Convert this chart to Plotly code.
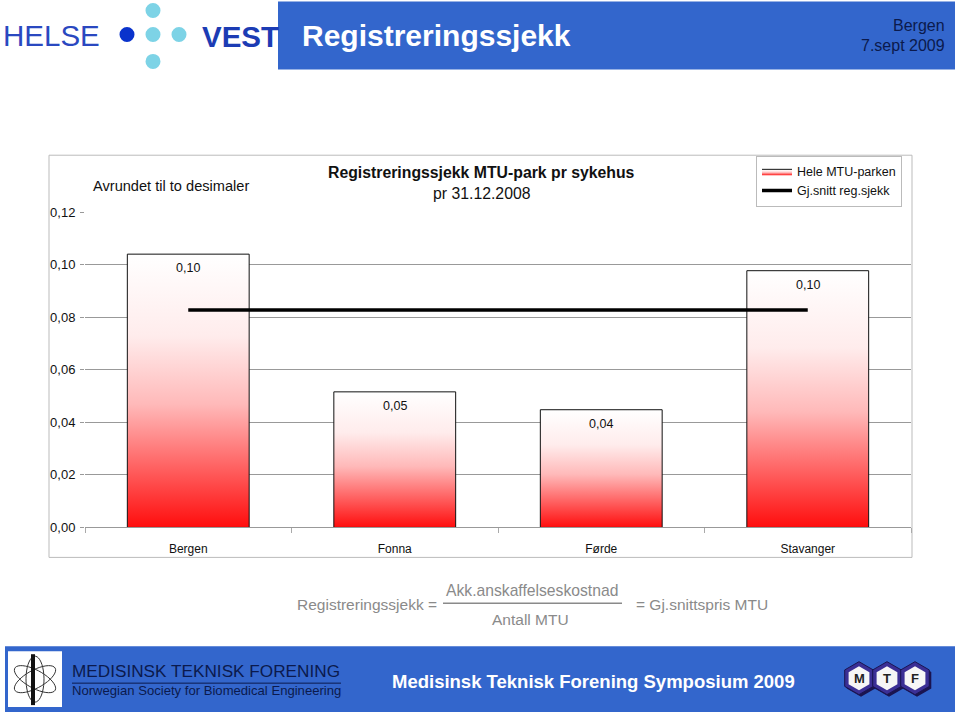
import plotly.graph_objects as go
import numpy as np

# ---------------- data ----------------
categories = ["Bergen", "Fonna", "Førde", "Stavanger"]
values = [0.104, 0.0516, 0.0448, 0.0977]
average = 0.0827
y_ticks = [0.0, 0.02, 0.04, 0.06, 0.08, 0.10, 0.12]

W, H = 960, 716
# vertical calibration (page pixel -> figure pixel)
Y0, YS = 6.5, 0.981
def px(x):
    return x / W
def py(y):
    return 1 - ((y - Y0) / YS) / H

FONT = "Liberation Sans, Arial, sans-serif"
BLUE = "#3366CC"
NAVY = "#0b1a4d"

fig = go.Figure()

bar_w = 0.59
grad = [[0, "#ff0d0d"], [0.2, "#ff5a5a"], [0.45, "#ffb9b9"], [0.7, "#ffecec"], [1, "#ffffff"]]
for i, (c, v) in enumerate(zip(categories, values)):
    x0, x1 = i - bar_w / 2, i + bar_w / 2
    fig.add_trace(go.Scatter(
        x=[x0, x0, x1, x1, x0], y=[0, v, v, 0, 0],
        mode="lines", fill="toself",
        fillgradient=dict(type="vertical", colorscale=grad),
        line=dict(color="#111111", width=1),
        name="Hele MTU-parken", legendgroup="bars",
        showlegend=(i == 0), hoverinfo="skip",
    ))

fig.add_trace(go.Scatter(
    x=[0, len(categories) - 1], y=[average, average], mode="lines",
    line=dict(color="black", width=3.5), name="Gj.snitt reg.sjekk",
))

shapes = []
annotations = []

# value labels inside bar tops
for i, v in enumerate(values):
    annotations.append(dict(xref="x", yref="y", x=i, y=v, yanchor="top", xanchor="center", yshift=-5,
                            text=f"{v:.2f}".replace(".", ","), showarrow=False,
                            font=dict(family=FONT, size=12.5, color="#111111")))

# chart box
shapes.append(dict(type="rect", xref="paper", yref="paper", x0=px(49), x1=px(912), y0=py(558), y1=py(155),
                   line=dict(color="#bbbbbb", width=1), fillcolor="white", layer="below"))
# header band
shapes.append(dict(type="rect", xref="paper", yref="paper", x0=px(278), x1=px(955), y0=py(69), y1=py(1),
                   line=dict(width=0), fillcolor=BLUE, layer="below"))
# footer band
shapes.append(dict(type="rect", xref="paper", yref="paper", x0=px(5), x1=px(955), y0=py(713), y1=py(647),
                   line=dict(width=0), fillcolor=BLUE, layer="below"))
# footer logo box
shapes.append(dict(type="rect", xref="paper", yref="paper", x0=px(8), x1=px(62), y0=py(708), y1=py(652),
                   line=dict(width=0), fillcolor="white"))
# atom ellipses in logo
cx, cy = 35, 680
t = np.linspace(0, 2 * np.pi, 40)
for ang in [0.5, -0.5, 1.57]:
    ex = 23 * np.cos(t)
    ey = 9 * np.sin(t)
    xr = cx + ex * np.cos(ang) - ey * np.sin(ang)
    yr = cy + ex * np.sin(ang) + ey * np.cos(ang)
    path = "M " + " L ".join(f"{px(a):.5f},{py(b):.5f}" for a, b in zip(xr, yr)) + " Z"
    shapes.append(dict(type="path", xref="paper", yref="paper", path=path,
                       line=dict(color="#333333", width=1)))
shapes.append(dict(type="line", xref="paper", yref="paper", x0=px(33), x1=px(33), y0=py(706), y1=py(655),
                   line=dict(color="#111111", width=4)))
# underline MTF text
shapes.append(dict(type="line", xref="paper", yref="paper", x0=px(72), x1=px(341), y0=py(684), y1=py(684),
                   line=dict(color=NAVY, width=1)))
# formula fraction line
shapes.append(dict(type="line", xref="paper", yref="paper", x0=px(443), x1=px(622), y0=py(604), y1=py(604),
                   line=dict(color="#8a8a8a", width=1.5)))

# Helse Vest dots
for (dx, dy, col) in [(127, 34, "#0a33cc"), (153, 10, "#7dd3e6"), (153, 34, "#7dd3e6"),
                      (179, 34, "#7dd3e6"), (153, 61, "#7dd3e6")]:
    r = 7.5
    shapes.append(dict(type="circle", xref="paper", yref="paper", x0=px(dx - r), x1=px(dx + r),
                       y0=py(dy + r), y1=py(dy - r), line=dict(width=0), fillcolor=col))

# MTF logo (pointy-top hexagons)
def hexpath(cx, cy, r):
    pts = []
    for k in range(6):
        a = np.pi / 2 + k * np.pi / 3
        pts.append((cx + r * np.cos(a), cy + r * np.sin(a)))
    return "M " + " L ".join(f"{px(a):.5f},{py(b):.5f}" for a, b in pts) + " Z"

for k, letter in enumerate(["M", "T", "F"]):
    lx, ly = 859 + k * 28, 679
    shapes.append(dict(type="path", xref="paper", yref="paper", path=hexpath(lx + 2, ly + 2, 16.5),
                       line=dict(width=0), fillcolor="#1a1450"))
    shapes.append(dict(type="path", xref="paper", yref="paper", path=hexpath(lx, ly, 16.5),
                       line=dict(color="#1a1450", width=1), fillcolor="#3b2f95"))
    shapes.append(dict(type="path", xref="paper", yref="paper", path=hexpath(lx, ly, 12),
                       line=dict(width=0), fillcolor="#f6f6f6"))
    annotations.append(dict(xref="paper", yref="paper", x=px(lx), y=py(ly), xanchor="center", yanchor="middle",
                            text=f"<b>{letter}</b>", showarrow=False,
                            font=dict(family=FONT, size=13, color="#222222")))

def txt(x, y, s, size, color, xanchor="left", bold=False, align="left"):
    annotations.append(dict(xref="paper", yref="paper", x=px(x), y=py(y), xanchor=xanchor, yanchor="middle",
                            text=(f"<b>{s}</b>" if bold else s), showarrow=False, align=align,
                            font=dict(family=FONT, size=size, color=color)))

# header text
txt(1, 35, "HELSE", 29.5, "#2a48c0")
txt(200, 36, "<b>VEST</b>", 29.5, "#1c3cb4")
txt(300, 35, "Registreringssjekk", 30, "white", bold=True)
txt(947, 25, "Bergen", 16, NAVY, xanchor="right")
txt(947, 45, "7.sept 2009", 16, NAVY, xanchor="right")

# chart texts
txt(91, 186, "Avrundet til to desimaler", 14.6, "#111111")
txt(481, 172, "Registreringssjekk MTU-park pr sykehus", 15.8, "#111111", xanchor="center", bold=True)
txt(482, 193, "pr 31.12.2008", 15.8, "#111111", xanchor="center")

# formula
txt(295, 605, "Registreringssjekk =", 15.5, "#8a8a8a")
txt(532, 591, "Akk.anskaffelseskostnad", 15.7, "#8a8a8a", xanchor="center")
txt(530, 620, "Antall MTU", 15.5, "#8a8a8a", xanchor="center")
txt(634, 605, "= Gj.snittspris MTU", 15.5, "#8a8a8a")

# footer texts
txt(70, 672, "MEDISINSK TEKNISK FORENING", 17.2, NAVY)
txt(70, 691, "Norwegian Society for Biomedical Engineering", 13.1, NAVY)
txt(390, 682, "Medisinsk Teknisk Forening Symposium 2009", 18.5, "white", bold=True)

fig.update_layout(
    width=W, height=H,
    margin=dict(l=0, r=0, t=0, b=0),
    paper_bgcolor="white",
    plot_bgcolor="#cbcbcb",
    font=dict(family=FONT, size=12, color="#111111"),
    separators=", ",
    shapes=shapes,
    annotations=annotations,
    showlegend=True,
    legend=dict(x=px(756), y=py(155.5), xanchor="left", yanchor="top",
                bgcolor="white", bordercolor="#bbbbbb", borderwidth=1,
                font=dict(size=12.5, family=FONT, color="#111111"),
                tracegroupgap=0, itemwidth=30),
    xaxis=dict(
        domain=[px(85), px(911)], range=[-0.5, len(categories) - 0.5],
        tickvals=list(range(len(categories))), ticktext=categories,
        ticks="", showgrid=False, zeroline=False,
        showline=True, linecolor="#999999", linewidth=1,
        ticklabelstandoff=10,
        tickfont=dict(size=12),
        minor=dict(tickvals=[i + 0.5 for i in range(-1, len(categories))], ticks="outside",
                   ticklen=5, tickcolor="#aaaaaa", showgrid=False),
        fixedrange=True,
    ),
    yaxis=dict(
        domain=[py(528), py(212)], range=[0, 0.12],
        tickvals=y_ticks, tickformat=".2f",
        ticks="outside", ticklen=4, tickcolor="#999999",
        showgrid=True, gridcolor="#999999", gridwidth=1,
        zeroline=False, showline=False,
        ticklabelstandoff=2,
        tickfont=dict(size=13),
        fixedrange=True,
    ),
)

fig.write_html("out.html")
